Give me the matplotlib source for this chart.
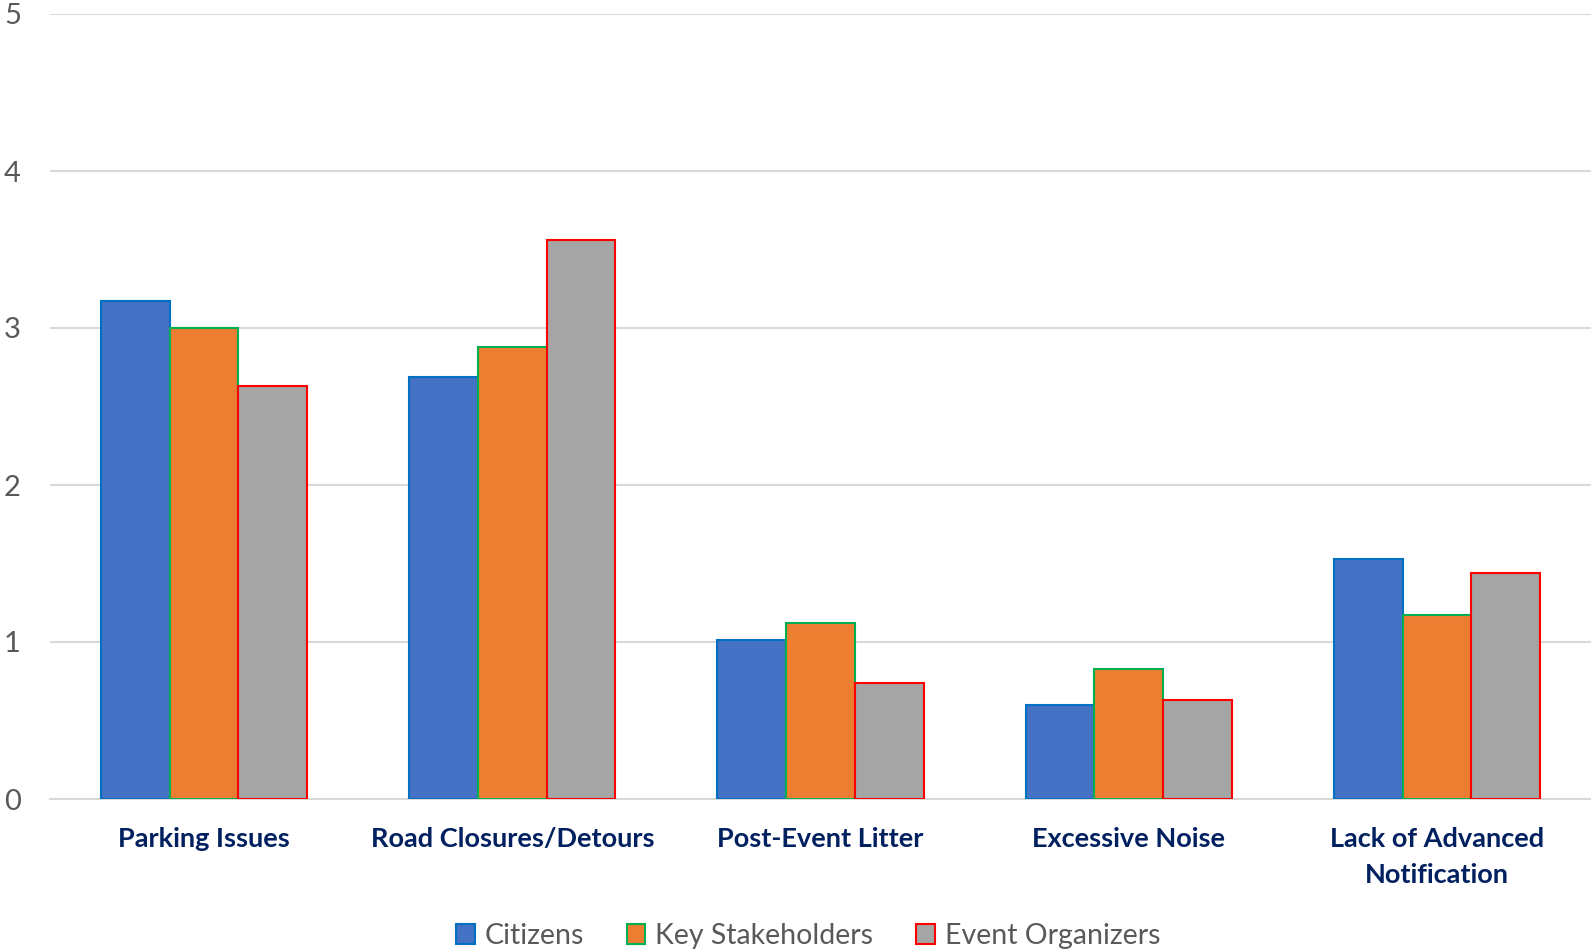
import matplotlib
matplotlib.use("Agg")
import matplotlib.pyplot as plt
import numpy as np

matplotlib.rcParams['font.family'] = ['Lato', 'DejaVu Sans']

categories = ["Parking Issues", "Road Closures/Detours", "Post-Event Litter",
              "Excessive Noise", "Lack of Advanced\nNotification"]
series = ["Citizens", "Key Stakeholders", "Event Organizers"]
citizens = [3.17, 2.69, 1.01, 0.60, 1.53]
stakeholders = [3.00, 2.88, 1.12, 0.83, 1.17]
organizers = [2.63, 3.56, 0.74, 0.63, 1.44]

fills = ["#4472C4", "#ED7D31", "#A5A5A5"]
edges = ["#0070C0", "#00B050", "#FF0000"]

fig = plt.figure(figsize=(15.91, 9.51), dpi=100)
ax = fig.add_axes([50/1591, 152/951, 1541/1591, 785/951])

x = np.arange(len(categories))
w = 0.223
for i, (vals, name) in enumerate(zip([citizens, stakeholders, organizers], series)):
    ax.bar(x + (i - 1) * w, vals, w, color=fills[i], edgecolor=edges[i],
           linewidth=1.5, label=name, zorder=3)

ax.set_xlim(-0.5, 4.5)
ax.set_ylim(0, 5)
ax.set_yticks(range(6))
ax.yaxis.grid(True, color="#D9D9D9", linewidth=1.5, zorder=0)
for s in ["top", "right", "left"]:
    ax.spines[s].set_visible(False)
ax.spines["bottom"].set_color("#D9D9D9")
ax.spines["bottom"].set_linewidth(1.5)
ax.tick_params(axis="y", length=0, pad=21, labelsize=21, labelcolor="#595959")
ax.tick_params(axis="x", length=0, pad=20)
ax.set_xticks(x)
ax.set_xticklabels(categories, fontsize=19.5, fontweight="bold", color="#002060",
                   linespacing=1.6)

leg = fig.legend(loc="center", bbox_to_anchor=(0.508, 1 - 936/951), ncol=3,
                 frameon=False, fontsize=20.5, handlelength=0.65, handleheight=0.65,
                 columnspacing=1.5, handletextpad=0.35)
for t in leg.get_texts():
    t.set_color("#595959")

fig.savefig("out.png", dpi=100)
